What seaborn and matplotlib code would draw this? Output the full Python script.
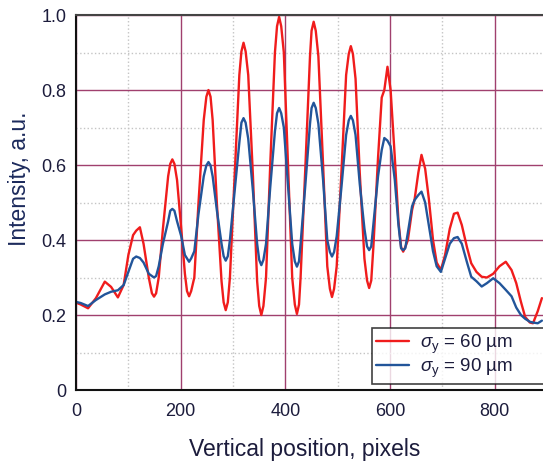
import numpy as np
import pandas as pd
import matplotlib
matplotlib.use("Agg")
import matplotlib.pyplot as plt
from matplotlib.ticker import MultipleLocator
import seaborn as sns

# Data (vertical position in pixels, intensity in a.u.)
position = [0, 9, 23, 38, 55, 67, 80, 91, 100, 109, 115, 122, 129, 139, 145, 149, 153,
            158, 166, 176, 180, 184, 188, 193, 201, 208, 212, 216, 220, 226, 234, 244,
            249, 253, 257, 261, 269, 278, 282, 286, 290, 294, 303, 312, 316, 320, 324,
            329, 338, 346, 350, 354, 358, 363, 371, 380, 384, 388, 392, 397, 405, 413,
            418, 422, 426, 429, 438, 447, 450, 454, 458, 463, 472, 480, 485, 489, 493,
            498, 507, 516, 521, 525, 529, 534, 542, 551, 556, 560, 564, 568, 577, 584,
            589, 595, 601, 609, 616, 621, 625, 629, 634, 642, 647, 654, 660, 667, 674,
            682, 689, 697, 705, 714, 722, 729, 737, 747, 755, 765, 775, 785, 797, 809,
            821, 832, 841, 850, 858, 867, 873, 882, 890]
sigma60 = [0.233, 0.228, 0.218, 0.245, 0.289, 0.275, 0.247, 0.28, 0.36, 0.413, 0.425, 0.434, 0.39, 0.30, 0.258, 0.249, 0.258,
           0.30, 0.43, 0.57, 0.603, 0.615, 0.603, 0.56, 0.43, 0.31, 0.264, 0.25, 0.264, 0.30, 0.50, 0.72,
           0.782, 0.80, 0.782, 0.72, 0.50, 0.29, 0.234, 0.213, 0.234, 0.30, 0.57, 0.84, 0.903, 0.926, 0.903,
           0.84, 0.57, 0.29, 0.224, 0.20, 0.224, 0.30, 0.60, 0.90, 0.97, 0.995, 0.97, 0.90, 0.60, 0.30,
           0.228, 0.203, 0.228, 0.30, 0.59, 0.89, 0.958, 0.982, 0.958, 0.89, 0.60, 0.33, 0.27, 0.248, 0.27,
           0.33, 0.58, 0.84, 0.896, 0.917, 0.896, 0.83, 0.58, 0.35, 0.292, 0.272, 0.292, 0.38, 0.62, 0.78,
           0.80, 0.862, 0.80, 0.62, 0.45, 0.381, 0.369, 0.381, 0.40, 0.48, 0.51, 0.58, 0.627, 0.59, 0.51,
           0.40, 0.34, 0.32, 0.36, 0.43, 0.47, 0.473, 0.44, 0.38, 0.338, 0.315, 0.302, 0.30, 0.31, 0.33,
           0.342, 0.32, 0.285, 0.235, 0.195, 0.18, 0.178, 0.21, 0.245]
sigma90 = [0.235, 0.232, 0.224, 0.24, 0.255, 0.262, 0.266, 0.28, 0.315, 0.35, 0.356, 0.352, 0.34, 0.31, 0.304, 0.30, 0.304,
           0.33, 0.39, 0.45, 0.478, 0.483, 0.478, 0.45, 0.41, 0.36, 0.351, 0.342, 0.351, 0.37, 0.47, 0.57,
           0.599, 0.608, 0.599, 0.57, 0.48, 0.39, 0.357, 0.345, 0.357, 0.40, 0.53, 0.66, 0.713, 0.725, 0.713,
           0.67, 0.53, 0.39, 0.347, 0.333, 0.347, 0.39, 0.54, 0.69, 0.738, 0.752, 0.738, 0.70, 0.545, 0.39,
           0.343, 0.329, 0.343, 0.39, 0.545, 0.71, 0.752, 0.766, 0.752, 0.71, 0.56, 0.40, 0.368, 0.356, 0.368,
           0.41, 0.54, 0.68, 0.719, 0.731, 0.719, 0.68, 0.55, 0.43, 0.383, 0.373, 0.383, 0.44, 0.57, 0.64,
           0.672, 0.665, 0.65, 0.56, 0.44, 0.378, 0.373, 0.378, 0.42, 0.49, 0.507, 0.52, 0.529, 0.50, 0.44,
           0.37, 0.33, 0.315, 0.35, 0.39, 0.405, 0.408, 0.39, 0.34, 0.302, 0.29, 0.276, 0.285, 0.298, 0.285,
           0.267, 0.25, 0.22, 0.20, 0.19, 0.182, 0.18, 0.178, 0.185]

labels = [r"$\sigma_\mathrm{y}$ = 60 µm", r"$\sigma_\mathrm{y}$ = 90 µm"]
colors = ["#f01c1c", "#22559a"]

df = pd.DataFrame({
    "pos": position * 2,
    "intensity": sigma60 + sigma90,
    "series": [labels[0]] * len(position) + [labels[1]] * len(position),
})

sns.set_style("white")
plt.rcParams["font.family"] = ["Liberation Sans", "DejaVu Sans"]
plt.rcParams["mathtext.fontset"] = "custom"
plt.rcParams["mathtext.rm"] = "Liberation Sans"
plt.rcParams["mathtext.it"] = "Liberation Sans:italic"

fig = plt.figure(figsize=(5.43, 4.62), dpi=100)
# axes runs past the right edge of the figure, like the cropped reference
ax = fig.add_axes([0.140, 0.1558, 0.964, 0.8117])

sns.lineplot(data=df, x="pos", y="intensity", hue="series", palette=colors,
             linewidth=1.7, ax=ax, sort=False)

ax.set_xlim(0, 1000)
ax.set_ylim(0, 1.0)
ax.set_xticks([0, 200, 400, 600, 800])
ax.xaxis.set_minor_locator(MultipleLocator(100))
ax.set_yticks([0, 0.2, 0.4, 0.6, 0.8, 1.0])
ax.set_yticklabels(["0", "0.2", "0.4", "0.6", "0.8", "1.0"])
ax.yaxis.set_minor_locator(MultipleLocator(0.1))

# grid: purple majors, dotted grey minors
ax.grid(which="major", color="#a0406e", linewidth=1.0)
ax.grid(which="minor", color="#c4c4c4", linestyle=":", linewidth=1.0)
ax.set_axisbelow(True)

ax.tick_params(which="major", direction="in", length=6, width=1.2, color="#555555",
               labelsize=13, labelcolor="#1c1c3c")
ax.tick_params(axis="x", which="major", pad=9)
ax.tick_params(axis="y", which="major", pad=7)
ax.tick_params(which="minor", direction="in", length=4, width=1.0, color="#555555")
for s in ["left", "bottom"]:
    ax.spines[s].set_color("#111111")
    ax.spines[s].set_linewidth(1.5)
ax.spines["top"].set_color("#444444")
ax.spines["top"].set_linewidth(1.5)

ax.set_xlabel("Vertical position, pixels", fontsize=16.5, color="#1c1c3c")
ax.set_ylabel("Intensity, a.u.", fontsize=16.5, color="#1c2a5c")
ax.xaxis.set_label_coords(0.437, -0.128)
ax.yaxis.set_label_coords(-0.086, 0.563)

leg = ax.legend(loc="upper left", bbox_to_anchor=(0.565, 0.0, 0.45, 0.165),
                mode="expand", frameon=True, fancybox=False, edgecolor="#111111",
                fontsize=13.5, handlelength=1.75, borderpad=0.25, labelspacing=0.02,
                handletextpad=0.55, borderaxespad=0)
leg.get_frame().set_linewidth(1.2)
for t in leg.get_texts():
    t.set_color("#1c1c3c")

fig.savefig("out.png", dpi=100)
